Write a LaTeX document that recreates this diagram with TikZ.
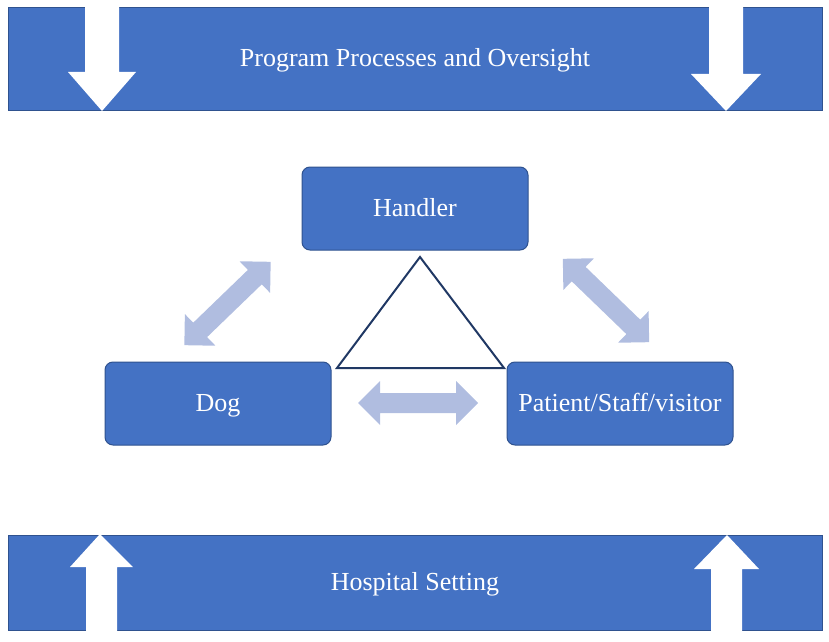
\documentclass[tikz,border=0pt]{standalone}
\usepackage{fontspec}
\setmainfont{Liberation Serif}
\usetikzlibrary{positioning}

\definecolor{boxblue}{HTML}{4472C4}
\definecolor{edgeblue}{HTML}{2F528F}
\definecolor{paleblue}{HTML}{B0BDE0}
\definecolor{navy}{HTML}{203864}

\tikzset{
  bar/.style={draw=edgeblue, fill=boxblue, text=white, line width=0.75pt,
    font=\fontsize{19.5}{23}\selectfont, inner sep=0pt,
    text height=15pt, text depth=3pt,
    minimum width=610.5pt, minimum height=77pt},
  party/.style={bar, rounded corners=6pt,
    minimum width=169.5pt, minimum height=62.25pt},
  pics/twoway/.style={code={
    \fill[paleblue] (-60,0) -- (-38,22) -- (-38,10) -- (38,10) -- (38,22)
      -- (60,0) -- (38,-22) -- (38,-10) -- (-38,-10) -- (-38,-22) -- cycle;
  }}
}

\begin{document}
\begin{tikzpicture}[x=0.75pt, y=-0.75pt]
  \useasboundingbox (0,0) rectangle (829,642);

  % frame bars
  \node[bar] (oversight) at (415,59) {Program Processes and Oversight};
  \node[bar, minimum height=71.25pt] (setting) at (415,582.5) {Hospital Setting};

  % white block arrows in the bars
  \fill[white] (85,6) -- (119,6) -- (119,72) -- (136,72) -- (102,111)
    -- (68,72) -- (85,72) -- cycle;
  \fill[white] (709,6) -- (743,6) -- (743,74) -- (761,74) -- (726,111)
    -- (691,74) -- (709,74) -- cycle;
  \fill[white] (86,631) -- (86,567) -- (70,567) -- (100,534) -- (133,567)
    -- (117,567) -- (117,631) -- cycle;
  \fill[white] (711,631) -- (711,569) -- (694,569) -- (727,535) -- (759,569)
    -- (742,569) -- (742,631) -- cycle;

  % the three parties
  \node[party] (handler) at (415,208.5) {Handler};
  \node[party] (dog) at (218,403.5) {Dog};
  \node[party, right=131.25pt of dog] (patient) {Patient/Staff/visitor};

  % triangle
  \coordinate (top) at (420,257);
  \coordinate (left) at (337,368);
  \coordinate (right) at (504,368);
  \draw[navy, line width=1.5pt, line join=miter] (top) -- (left) -- (right) -- cycle;

  % two-way arrows
  \pic[rotate=44] at (227.5,303.5) {twoway};
  \pic[rotate=-44] at (606,300.5) {twoway};
  \pic at (418,403) {twoway};
\end{tikzpicture}
\end{document}
